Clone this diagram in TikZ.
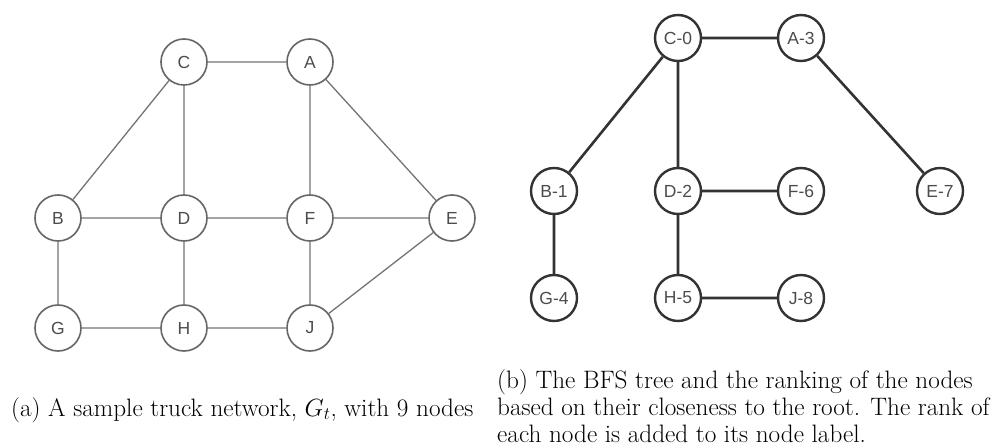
\documentclass[tikz,border=0pt]{standalone}
\usepackage{fontspec}
\newfontfamily\nodefont{Liberation Sans}
\begin{document}
\begin{tikzpicture}[x=1pt,y=-1pt,
  lnode/.style={circle,draw=black!60,line width=1.6pt,minimum size=46pt,inner sep=0pt,font=\nodefont\fontsize{17.5}{17.5}\selectfont,text=black!70,fill=white},
  rnode/.style={circle,draw=black!80,line width=2.4pt,minimum size=46pt,inner sep=0pt,font=\nodefont\fontsize{17.5}{17.5}\selectfont,text=black!70,fill=white},
  ledge/.style={draw=black!55,line width=1.3pt},
  redge/.style={draw=black!80,line width=2.6pt},
  captext/.style={font=\fontsize{25.2}{27}\selectfont,inner sep=0pt,anchor=base west}]
\useasboundingbox (0,0) rectangle (1003,446);
% left graph
\node[lnode] (C) at (184,62) {C};
\node[lnode] (A) at (310,62) {A};
\node[lnode] (B) at (58,218) {B};
\node[lnode] (D) at (184,218) {D};
\node[lnode] (F) at (310,218) {F};
\node[lnode] (E) at (452,218) {E};
\node[lnode] (G) at (58,328) {G};
\node[lnode] (H) at (184,328) {H};
\node[lnode] (J) at (310,328) {J};
\draw[ledge] (C)--(A) (C)--(B) (C)--(D) (A)--(F) (A)--(E) (B)--(D) (D)--(F) (F)--(E) (B)--(G) (D)--(H) (F)--(J) (E)--(J) (G)--(H) (H)--(J);
% right graph
\node[rnode] (C0) at (678,38) {C-0};
\node[rnode] (A3) at (801,38) {A-3};
\node[rnode] (B1) at (554,191) {B-1};
\node[rnode] (D2) at (678,191) {D-2};
\node[rnode] (F6) at (801,191) {F-6};
\node[rnode] (E7) at (940,191) {E-7};
\node[rnode] (G4) at (554,298) {G-4};
\node[rnode] (H5) at (678,298) {H-5};
\node[rnode] (J8) at (801,298) {J-8};
\draw[redge] (C0)--(A3) (C0)--(B1) (C0)--(D2) (A3)--(E7) (D2)--(F6) (B1)--(G4) (D2)--(H5) (H5)--(J8);
% captions
\node[captext] (capa) at (11,416) {(a) A sample truck network, $G_t$, with 9 nodes};
\node[captext] (capb1) at (497,388) {(b) The BFS tree and the ranking of the nodes};
\node[captext] (capb2) at (497,415) {based on their closeness to the root. The rank of};
\node[captext] (capb3) at (497,442) {each node is added to its node label.};
\end{tikzpicture}
\end{document}
